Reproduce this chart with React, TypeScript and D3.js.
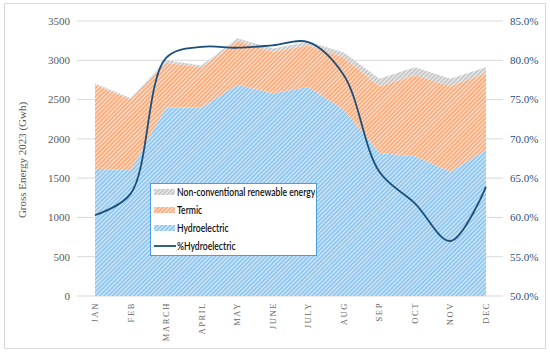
import React from 'react';
import * as d3 from 'd3';

const months = ['JAN', 'FEB', 'MARCH', 'APRIL', 'MAY', 'JUNE', 'JULY', 'AUG', 'SEP', 'OCT', 'NOV', 'DEC'];
const hydro = [1620, 1600, 2400, 2400, 2690, 2580, 2660, 2370, 1820, 1780, 1580, 1860];
const termic = [1070, 900, 570, 510, 560, 530, 530, 670, 850, 1030, 1090, 980];
const nonConv = [15, 20, 30, 25, 30, 40, 45, 60, 95, 100, 95, 70];
const pctHydro = [60.3, 63.0, 80.3, 81.7, 81.6, 81.9, 82.3, 78.1, 65.8, 61.8, 57.0, 63.9];
const leftTicks = [0, 500, 1000, 1500, 2000, 2500, 3000, 3500];
const rightTicks = [50, 55, 60, 65, 70, 75, 80, 85];

const W = 550;
const H = 353;

const App: React.FC = () => {
  const x = d3.scalePoint<string>().domain(months).range([95, 486]);
  const y = d3.scaleLinear().domain([0, 3500]).range([296, 21]);
  const yp = d3.scaleLinear().domain([50, 85]).range([296, 21]);

  const rows = months.map((m, i) => ({ m, hydro: hydro[i], termic: termic[i], nonConv: nonConv[i] }));
  const stack = d3.stack<any>().keys(['hydro', 'termic', 'nonConv'])(rows);

  const area = d3.area<any>()
    .x((d) => x(d.data.m) as number)
    .y0((d) => y(d[0]))
    .y1((d) => y(d[1]));

  const line = d3.line<number>()
    .x((d, i) => x(months[i]) as number)
    .y((d) => yp(d))
    .curve(d3.curveCatmullRom);

  const fills = ['url(#hatchBlue)', 'url(#hatchOrange)', 'url(#hatchGray)'];
  const legend = [
    { label: 'Non-conventional renewable energy', fill: 'url(#hatchGray)' },
    { label: 'Termic', fill: 'url(#hatchOrange)' },
    { label: 'Hydroelectric', fill: 'url(#hatchBlue)' },
    { label: '%Hydroelectric', fill: null },
  ];

  return (
    <svg width={W} height={H} style={{ position: 'absolute', left: 0, top: 0 }}>
      <defs>
        <pattern id="hatchBlue" patternUnits="userSpaceOnUse" width={3} height={3} patternTransform="rotate(45)">
          <rect width={3} height={3} fill="#d6eaf9" />
          <line x1={0.8} y1={0} x2={0.8} y2={3} stroke="#86c1ec" strokeWidth={1.6} />
        </pattern>
        <pattern id="hatchOrange" patternUnits="userSpaceOnUse" width={3} height={3} patternTransform="rotate(45)">
          <rect width={3} height={3} fill="#fde2d0" />
          <line x1={0.8} y1={0} x2={0.8} y2={3} stroke="#f8a470" strokeWidth={1.6} />
        </pattern>
        <pattern id="hatchGray" patternUnits="userSpaceOnUse" width={3} height={3} patternTransform="rotate(45)">
          <rect width={3} height={3} fill="#efefef" />
          <line x1={0.8} y1={0} x2={0.8} y2={3} stroke="#bfbfbf" strokeWidth={1.6} />
        </pattern>
      </defs>
      <rect x={4.5} y={3.5} width={541} height={345} fill="#fff" stroke="#d9d9d9" />

      {leftTicks.map((t) => (
        <line key={t} x1={77} x2={503} y1={y(t)} y2={y(t)} stroke="#d9d9d9" strokeWidth={1} />
      ))}

      {stack.map((s, i) => (
        <path key={s.key} d={area(s) as string} fill={fills[i]} />
      ))}

      <path d={line(pctHydro) as string} fill="none" stroke="#1b4f7c" strokeWidth={1.8} />

      {leftTicks.map((t) => (
        <text key={t} x={70} y={y(t)} dy="0.35em" textAnchor="end" fontFamily="Liberation Serif, serif" fontSize={11} fill="#595959">
          {t}
        </text>
      ))}
      {rightTicks.map((t) => (
        <text key={t} x={510} y={yp(t)} dy="0.35em" textAnchor="start" fontFamily="Liberation Serif, serif" fontSize={11} fill="#2a4f7a">
          {t.toFixed(1)}%
        </text>
      ))}
      {months.map((m) => (
        <text key={m} transform={`translate(${(x(m) as number) + 3},302) rotate(-90)`} textAnchor="end" fontFamily="Liberation Serif, serif" fontSize={8.5} letterSpacing={1.6} fill="#666">
          {m}
        </text>
      ))}
      <text transform="translate(26,160) rotate(-90)" textAnchor="middle" fontFamily="Liberation Serif, serif" fontSize={11} fill="#595959">
        Gross Energy 2023 (Gwh)
      </text>

      <rect x={150.5} y={183.5} width={166} height={72} fill="#fff" stroke="#4a9fd8" strokeWidth={1} />
      {legend.map((l, i) => {
        const cy = 192 + i * 18;
        return (
          <g key={l.label}>
            {l.fill ? (
              <rect x={154} y={cy - 3} width={21} height={6} fill={l.fill} />
            ) : (
              <line x1={154} x2={176} y1={cy} y2={cy} stroke="#1b4f7c" strokeWidth={1.8} />
            )}
            <text transform={`translate(177,${cy}) scale(0.82,1)`} dy="0.35em" fontFamily="Lato, sans-serif" fontWeight={600} fontSize={10.5} fill="#111">
              {l.label}
            </text>
          </g>
        );
      })}
    </svg>
  );
};

export default App;
